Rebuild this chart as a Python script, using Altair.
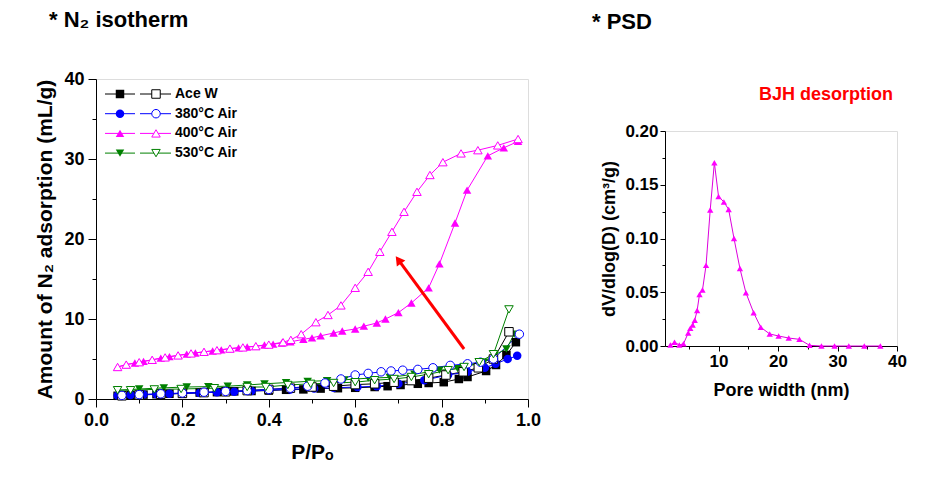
import altair as alt
import pandas as pd

# ---------------- data ----------------
samples = ["Ace W", "380°C Air", "400°C Air", "530°C Air"]
colors = ["#000000", "#0000ff", "#ff00ff", "#008000"]
shapes = ["square", "circle", "triangle-up", "triangle-down"]

acew_ads_p = [0.05, 0.08, 0.11, 0.14, 0.17, 0.20, 0.24, 0.28, 0.32, 0.36, 0.40, 0.44, 0.48, 0.52,
              0.56, 0.60, 0.645, 0.675, 0.705, 0.745, 0.77, 0.805, 0.84, 0.86, 0.903, 0.926, 0.95, 0.972]
acew_ads_v = [0.4, 0.5, 0.55, 0.6, 0.65, 0.7, 0.8, 0.85, 0.95, 1.0, 1.05, 1.15, 1.2, 1.3,
              1.35, 1.4, 1.5, 1.6, 1.75, 1.9, 2.0, 2.1, 2.5, 2.75, 3.5, 4.25, 5.5, 7.1]
acew_des_p = [0.956, 0.92, 0.885, 0.85, 0.81, 0.77, 0.73, 0.69, 0.645, 0.60, 0.55, 0.50, 0.45,
              0.40, 0.35, 0.30, 0.25, 0.20, 0.15, 0.10, 0.06]
acew_des_v = [8.4, 5.0, 3.9, 3.4, 3.0, 2.6, 2.3, 2.1, 1.9, 1.8, 1.6, 1.5, 1.35,
              1.2, 1.05, 0.9, 0.8, 0.7, 0.6, 0.5, 0.4]

a380_ads_p = [0.05, 0.08, 0.11, 0.14, 0.17, 0.20, 0.24, 0.28, 0.32, 0.36, 0.40, 0.45, 0.505, 0.55,
              0.605, 0.65, 0.70, 0.76, 0.815, 0.86, 0.90, 0.925, 0.953, 0.975]
a380_ads_v = [0.45, 0.5, 0.55, 0.6, 0.65, 0.7, 0.75, 0.85, 0.9, 1.0, 1.1, 1.2, 1.3, 1.4,
              1.5, 1.6, 1.9, 2.35, 3.0, 3.4, 3.9, 4.4, 5.0, 5.4]
a380_des_p = [0.98, 0.92, 0.89, 0.86, 0.82, 0.78, 0.745, 0.71, 0.683, 0.66, 0.63, 0.60, 0.567,
              0.53, 0.49, 0.45, 0.40, 0.35, 0.30, 0.25, 0.20, 0.15, 0.10, 0.06]
a380_des_v = [8.1, 5.0, 4.6, 4.4, 4.2, 3.9, 3.7, 3.6, 3.5, 3.4, 3.2, 3.0, 2.5,
              2.0, 1.6, 1.35, 1.2, 1.05, 0.95, 0.85, 0.75, 0.65, 0.55, 0.45]

a400_ads_p = [0.05, 0.07, 0.09, 0.11, 0.13, 0.15, 0.17, 0.19, 0.21, 0.23, 0.25, 0.27, 0.29, 0.31,
              0.33, 0.35, 0.37, 0.39, 0.41, 0.43, 0.45, 0.48, 0.50, 0.52, 0.55, 0.57, 0.60, 0.62,
              0.65, 0.67, 0.70, 0.73, 0.77, 0.795, 0.831, 0.859, 0.907, 0.944, 0.977]
a400_ads_v = [4.0, 4.3, 4.5, 4.7, 4.9, 5.1, 5.3, 5.45, 5.6, 5.75, 5.9, 6.0, 6.15, 6.3,
              6.4, 6.5, 6.6, 6.75, 6.85, 7.0, 7.15, 7.45, 7.65, 7.9, 8.25, 8.5, 8.75, 9.1,
              9.5, 10.0, 10.8, 12.0, 13.9, 16.9, 22.0, 26.1, 30.4, 31.4, 32.2]
a400_des_p = [0.977, 0.93, 0.884, 0.845, 0.803, 0.773, 0.743, 0.713, 0.685, 0.657, 0.63, 0.60,
              0.567, 0.537, 0.509, 0.475, 0.451, 0.433, 0.40, 0.37, 0.34, 0.31, 0.28, 0.25,
              0.22, 0.19, 0.16, 0.13, 0.10, 0.07, 0.05]
a400_des_v = [32.5, 31.7, 31.1, 30.7, 29.6, 28.0, 25.9, 23.4, 20.9, 18.4, 15.9, 13.9,
              11.7, 10.5, 9.6, 8.1, 7.4, 7.1, 6.8, 6.6, 6.45, 6.3, 6.1, 5.9,
              5.7, 5.45, 5.2, 4.9, 4.6, 4.3, 4.0]

a530_ads_p = [0.05, 0.10, 0.157, 0.21, 0.26, 0.305, 0.35, 0.39, 0.44, 0.49, 0.535, 0.575, 0.63,
              0.68, 0.737, 0.795, 0.837, 0.86, 0.898, 0.922, 0.95, 0.968]
a530_ads_v = [1.1, 1.25, 1.4, 1.5, 1.55, 1.6, 1.75, 1.9, 2.05, 2.2, 2.3, 2.4, 2.6,
              2.7, 3.1, 3.6, 3.8, 4.1, 4.6, 5.5, 6.25, 8.1]
a530_des_p = [0.956, 0.92, 0.887, 0.852, 0.815, 0.77, 0.73, 0.69, 0.645, 0.60, 0.55, 0.497,
              0.444, 0.393, 0.35, 0.274, 0.197, 0.135, 0.08, 0.05]
a530_des_v = [11.2, 5.6, 4.6, 4.0, 3.6, 3.1, 2.75, 2.5, 2.35, 2.1, 2.0, 1.9,
              1.75, 1.5, 1.5, 1.35, 1.25, 1.2, 1.1, 1.1]

arrow_p = [0.852, 0.70]
arrow_v = [6.25, 17.4]

psd_d = [1.9, 2.6, 3.4, 4.1, 4.9, 5.25, 5.65, 6.0, 6.4, 6.8, 7.3, 7.9, 8.6, 9.3, 10.0, 10.9,
         11.7, 12.6, 13.6, 14.6, 15.9, 17.1, 18.6, 20.1, 21.8, 23.6, 25.3, 27.3, 29.5, 31.9,
         34.5, 37.2]
psd_v = [0.001, 0.0035, 0.001, 0.002, 0.012, 0.0165, 0.0195, 0.024, 0.033, 0.048, 0.052,
         0.075, 0.1265, 0.1705, 0.139, 0.134, 0.127, 0.100, 0.072, 0.0496, 0.031, 0.0174,
         0.0112, 0.0093, 0.0074, 0.0062, 0.0006, 0.0, 0.0, 0.0, 0.0, 0.0]

# ---------------- tables ----------------
parts = []
for s, bp, bv, dp, dv in [
    (samples[0], acew_ads_p, acew_ads_v, acew_des_p, acew_des_v),
    (samples[1], a380_ads_p, a380_ads_v, a380_des_p, a380_des_v),
    (samples[2], a400_ads_p, a400_ads_v, a400_des_p, a400_des_v),
    (samples[3], a530_ads_p, a530_ads_v, a530_des_p, a530_des_v),
]:
    parts.append(pd.DataFrame({"sample": s, "branch": "ads", "P": bp, "V": bv}))
    parts.append(pd.DataFrame({"sample": s, "branch": "des", "P": dp, "V": dv}))
iso = pd.concat(parts, ignore_index=True)
iso["series"] = iso["sample"] + " " + iso["branch"]

arrow_df = pd.DataFrame({"P": arrow_p, "V": arrow_v})
psd = pd.DataFrame({"D": psd_d, "dV": psd_v})

FONT = "Liberation Sans"
W1, H1 = 432, 320
W2, H2 = 232, 215
MS = 72


def make_axis(values, test, fmt, major, minor, title, lsize, tsize, lpad, tpad):
    return alt.Axis(
        values=values,
        labelExpr=f"({test}) ? format(datum.value, '{fmt}') : ''",
        tickSize={"condition": {"test": test, "value": major}, "value": minor},
        title=title, titleFont=FONT, titleFontSize=tsize, titleFontWeight="bold",
        titleColor="black", labelFont=FONT, labelFontSize=lsize, labelFontWeight="bold",
        labelColor="black", tickColor="black", domainColor="black", tickWidth=1,
        grid=False, labelPadding=lpad, titlePadding=tpad, labelFlush=False,
        labelOverlap=False,
    )


x1_axis = make_axis([round(i * 0.1, 1) for i in range(11)], "round(datum.value*10) % 2 == 0",
                    ".1f", 8, 4, "P/Pₒ", 18, 21, 4, 12)
y1_axis = make_axis(list(range(0, 41, 5)), "datum.value % 10 == 0", "d", 8, 4,
                    "Amount of N₂ adsorption (mL/g)", 18, 21, 4, 8)

X1 = alt.X("P:Q", scale=alt.Scale(domain=[0, 1], nice=False), axis=x1_axis)
Y1 = alt.Y("V:Q", scale=alt.Scale(domain=[0, 40], nice=False), axis=y1_axis)
color_enc = alt.Color("sample:N", scale=alt.Scale(domain=samples, range=colors), legend=None)
shape_enc = alt.Shape("sample:N", scale=alt.Scale(domain=samples, range=shapes), legend=None)

base = alt.Chart(iso)
lines = base.mark_line(strokeWidth=1).encode(x=X1, y=Y1, color=color_enc, detail="series:N")
filled_pts = base.transform_filter("datum.branch == 'ads'").mark_point(
    filled=True, size=MS, opacity=1).encode(x=X1, y=Y1, shape=shape_enc, color=color_enc)
open_pts = base.transform_filter("datum.branch == 'des'").mark_point(
    filled=False, fill="white", size=MS, strokeWidth=1, opacity=1).encode(
    x=X1, y=Y1, shape=shape_enc, color=color_enc)

arrow_line = alt.Chart(arrow_df).mark_line(color="#ff0000", strokeWidth=3).encode(x=X1, y=Y1)
arrow_head = alt.Chart(arrow_df).transform_filter("datum.V > 10").mark_point(
    shape="triangle-up", angle=324, filled=True, color="#ff0000", size=110, opacity=1).encode(
    x=X1, y=Y1)

# legend (pixel positions computed from layout constants)
leg = pd.DataFrame({"sample": samples, "ly": [15 + i * 19.7 for i in range(len(samples))]})
LY = alt.Y("ly:Q", scale=None)
leg_base = alt.Chart(leg)
leg_r1 = leg_base.mark_rule(strokeWidth=1).encode(x=alt.value(9), x2=alt.value(39), y=LY, color=color_enc)
leg_r2 = leg_base.mark_rule(strokeWidth=1).encode(x=alt.value(44), x2=alt.value(75), y=LY, color=color_enc)
leg_p1 = leg_base.mark_point(filled=True, size=MS, opacity=1).encode(
    x=alt.value(24), y=LY, shape=shape_enc, color=color_enc)
leg_p2 = leg_base.mark_point(filled=False, fill="white", size=MS, strokeWidth=1, opacity=1).encode(
    x=alt.value(60), y=LY, shape=shape_enc, color=color_enc)
leg_t = leg_base.mark_text(align="left", baseline="middle", font=FONT, fontSize=14,
                           fontWeight="bold", color="black").encode(
    x=alt.value(79), y=LY, text="sample:N")

title1 = alt.Chart(pd.DataFrame({"t": ["* N₂ isotherm"]})).mark_text(
    align="left", baseline="middle", font=FONT, fontSize=22, fontWeight="bold", color="black"
).encode(x=alt.value(-47), y=alt.value(-59), text="t:N")

left = alt.layer(lines, filled_pts, open_pts, arrow_line, arrow_head,
                 leg_r1, leg_r2, leg_p1, leg_p2, leg_t, title1).properties(width=W1, height=H1)

# ---------------- PSD ----------------
x2_axis = make_axis(list(range(5, 41, 5)), "datum.value % 10 == 0", "d", 5, 3,
                    "Pore width (nm)", 17, 18, 2, 12)
y2_axis = make_axis([round(i * 0.025, 3) for i in range(9)], "round(datum.value*1000) % 50 == 0",
                    ".2f", 5, 3, "dV/dlog(D) (cm³/g)", 17, 18, 2, 6)
X2 = alt.X("D:Q", scale=alt.Scale(domain=[1, 40], nice=False), axis=x2_axis)
Y2 = alt.Y("dV:Q", scale=alt.Scale(domain=[0, 0.2], nice=False), axis=y2_axis)

psd_line = alt.Chart(psd).mark_line(color="#dd00dd", strokeWidth=1).encode(x=X2, y=Y2)
psd_pts = alt.Chart(psd).mark_point(shape="triangle-up", filled=True, color="#ff00ff",
                                    size=40, opacity=1).encode(x=X2, y=Y2)
right_plot = alt.layer(psd_line, psd_pts).properties(width=W2, height=H2)

hdr = pd.DataFrame({"t": ["* PSD", "BJH desorption"]})
hdr1 = alt.Chart(hdr).transform_filter("datum.t == '* PSD'").mark_text(
    align="left", baseline="middle", font=FONT, fontSize=22, fontWeight="bold", color="black"
).encode(x=alt.value(-73), y=alt.value(-57), text="t:N")
hdr2 = alt.Chart(hdr).transform_filter("datum.t == 'BJH desorption'").mark_text(
    align="center", baseline="middle", font=FONT, fontSize=18, fontWeight="bold", color="#ff0000"
).encode(x=alt.value(161), y=alt.value(16), text="t:N")
header = alt.layer(hdr1, hdr2).properties(
    width=W2, height=41, view=alt.ViewBackground(stroke="transparent"))

right = alt.vconcat(header, right_plot, spacing=0)

chart = alt.hconcat(left, right, spacing=49).properties(
    padding={"left": 26, "top": 0, "right": 5, "bottom": 5}
).configure_view(stroke="black", strokeWidth=1).configure(font=FONT)

chart.save("out.html", embed_options={"renderer": "svg", "actions": False})
